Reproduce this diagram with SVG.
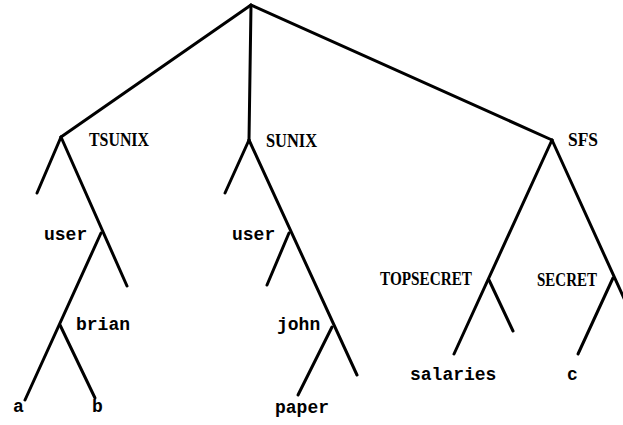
<svg xmlns="http://www.w3.org/2000/svg" width="623" height="425" viewBox="0 0 623 425">
<style>
.e{stroke:#000;stroke-width:3;stroke-linecap:round;fill:none}
.u{font-family:"Liberation Serif","Times New Roman",serif;font-weight:bold;font-size:19.5px;fill:#000}
.l{font-family:"Liberation Mono","Courier New",monospace;font-weight:bold;font-size:18px;fill:#000}
</style>
<rect width="623" height="425" fill="#fff"/>
<g id="connectors">
<path class="e" d="M251,5 L61,137"/>
<path class="e" d="M251,5 L249,140"/>
<path class="e" d="M251,5 L552,140"/>
<path class="e" d="M61,137 L37,193"/>
<path class="e" d="M61,137 L127,286"/>
<path class="e" d="M101,233 L25,400"/>
<path class="e" d="M60,325 L95,398"/>
<path class="e" d="M249,140 L225,193"/>
<path class="e" d="M249,140 L357,375"/>
<path class="e" d="M289,233 L267,285"/>
<path class="e" d="M332,327 L298,395"/>
<path class="e" d="M552,140 L454,354"/>
<path class="e" d="M489,280 L513,331"/>
<path class="e" d="M552,140 L632,316"/>
<path class="e" d="M613,278 L578,354"/>
</g>
<g id="TSUNIX"><text class="u" x="89" y="146" textLength="60" lengthAdjust="spacingAndGlyphs">TSUNIX</text></g>
<g id="SUNIX"><text class="u" x="266" y="147" textLength="51" lengthAdjust="spacingAndGlyphs">SUNIX</text></g>
<g id="SFS"><text class="u" x="568" y="146" textLength="30" lengthAdjust="spacingAndGlyphs">SFS</text></g>
<g id="user1"><text class="l" x="44" y="240">user</text></g>
<g id="user2"><text class="l" x="232" y="240">user</text></g>
<g id="brian"><text class="l" x="76" y="330">brian</text></g>
<g id="john"><text class="l" x="277" y="330">john</text></g>
<g id="a"><text class="l" x="13" y="412">a</text></g>
<g id="b"><text class="l" x="92" y="412">b</text></g>
<g id="paper"><text class="l" x="275" y="413">paper</text></g>
<g id="TOPSECRET"><text class="u" x="380" y="285" textLength="92" lengthAdjust="spacingAndGlyphs">TOPSECRET</text></g>
<g id="SECRET"><text class="u" x="537" y="286" textLength="60" lengthAdjust="spacingAndGlyphs">SECRET</text></g>
<g id="salaries"><text class="l" x="410" y="380">salaries</text></g>
<g id="c"><text class="l" x="567" y="380">c</text></g>
</svg>
